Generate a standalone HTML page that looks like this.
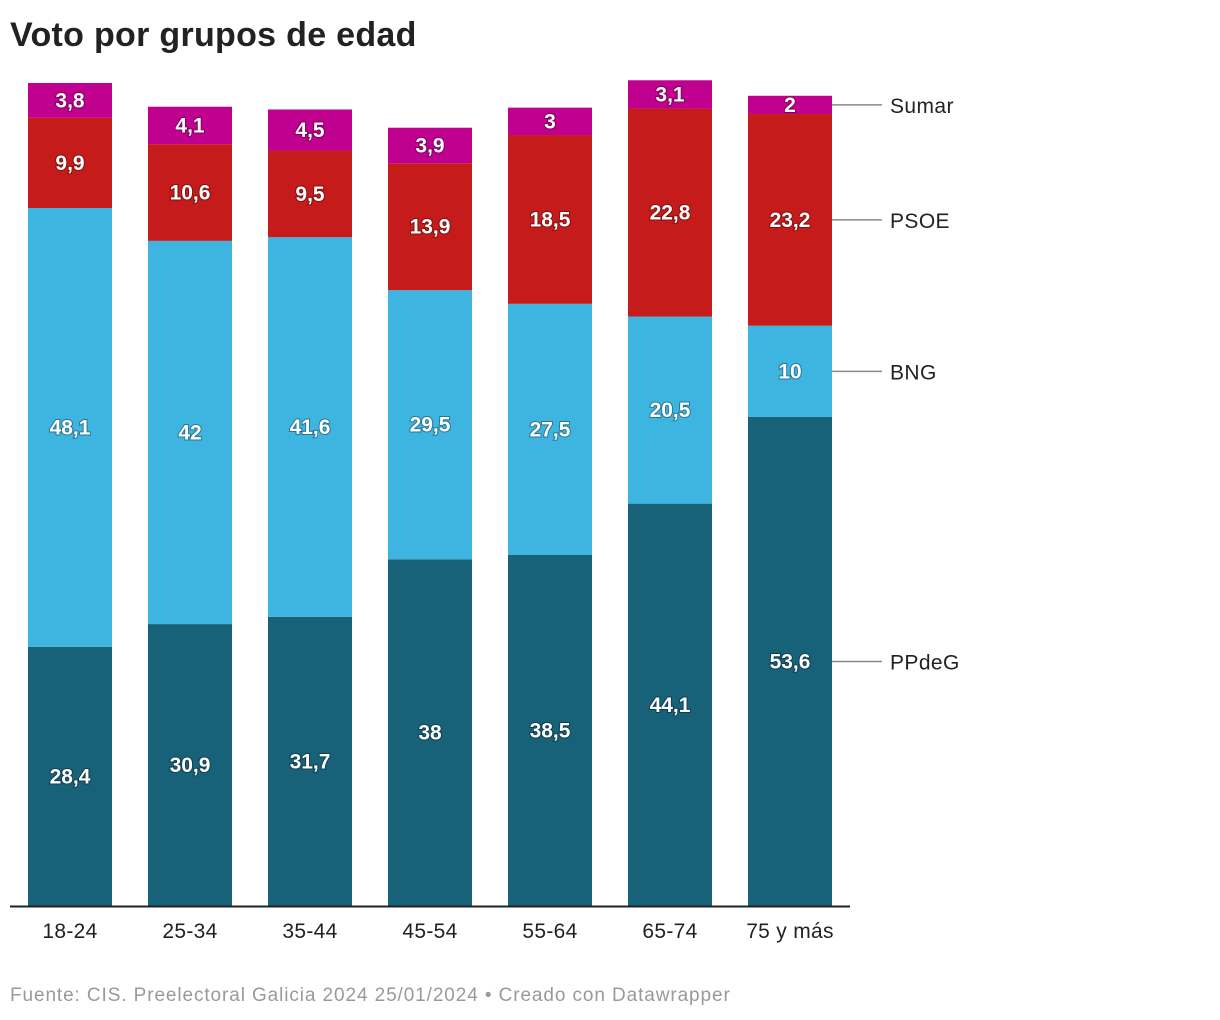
<!DOCTYPE html>
<html><head><meta charset="utf-8">
<style>
body{margin:0;background:#fff;width:1220px;height:1020px;overflow:hidden;font-family:"Liberation Sans",sans-serif;}
#title{position:absolute;left:10px;top:16px;font-size:34px;font-weight:bold;color:#222;margin:0;letter-spacing:0.3px}
#footer{position:absolute;left:10px;top:985px;font-size:19px;color:#999;letter-spacing:0.9px}
svg{position:absolute;left:0;top:0}
</style></head><body>
<h1 id="title">Voto por grupos de edad</h1>
<svg id="chart" width="1220" height="1020"></svg>
<div id="footer">Fuente: CIS. Preelectoral Galicia 2024 25/01/2024 • Creado con Datawrapper</div>
<script>
const categories=["18-24","25-34","35-44","45-54","55-64","65-74","75 y más"];
const seriesNames=["PPdeG","BNG","PSOE","Sumar"];
const ppdeg=[28.4,30.9,31.7,38,38.5,44.1,53.6];
const bng=[48.1,42,41.6,29.5,27.5,20.5,10];
const psoe=[9.9,10.6,9.5,13.9,18.5,22.8,23.2];
const sumar=[3.8,4.1,4.5,3.9,3,3.1,2];
const colors=["#176179","#3eb4e0","#c51b1b","#c0008f"];
const series=[ppdeg,bng,psoe,sumar];
const svg=document.getElementById('chart');
const NS="http://www.w3.org/2000/svg";
const base=906, scale=9.124;
const y=v=>base-v*scale;
const x=i=>28+i*120;
const bw=84;
function mk(t,a){const e=document.createElementNS(NS,t);for(const k in a)e.setAttribute(k,a[k]);svg.appendChild(e);return e;}
const fmt=v=>String(v).replace('.',',');
categories.forEach((c,i)=>{
  let cum=0;
  series.forEach((s,j)=>{
    const v=s[i];
    const r=mk('rect',{x:x(i),y:y(cum+v),width:bw,height:v*scale,fill:colors[j]});
    
    
    const t=mk('text',{x:x(i)+bw/2,y:y(cum+v/2)+7,'text-anchor':'middle','font-size':21,'font-weight':'bold',fill:'#fff',stroke:'rgba(0,0,0,0.35)','stroke-width':2,'paint-order':'stroke'});
    t.textContent=fmt(v);
    
    
    if(i===categories.length-1){
      const ly=y(cum+v/2);
      const l=mk('line',{x1:832,x2:882,y1:ly,y2:ly,stroke:'#888','stroke-width':1.5});
      
      
      const lt=mk('text',{x:890,y:ly+8,'font-size':21,fill:'#222','letter-spacing':0.4});
      lt.textContent=seriesNames[j];
      
      
    }
    cum+=v;
  });
  const tl=mk('text',{x:x(i)+bw/2,y:938,'text-anchor':'middle','font-size':21,fill:'#222','letter-spacing':0.3});
  tl.textContent=c;
  
  
});
const ax=mk('line',{x1:10,x2:850,y1:base+0.5,y2:base+0.5,stroke:'#222','stroke-width':2});


</script>
</body></html>
